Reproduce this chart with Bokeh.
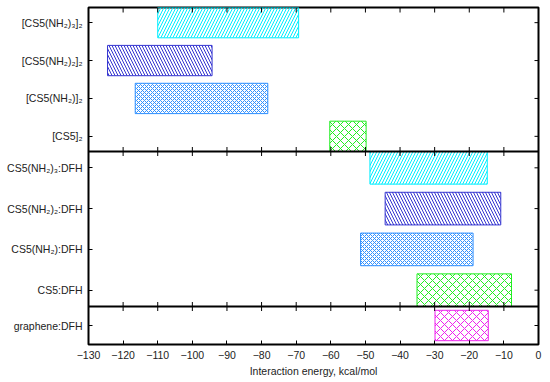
from bokeh.plotting import figure
from bokeh.models import Range1d, FixedTicker, LinearAxis, Span
from bokeh.embed import file_html
from bokeh.resources import INLINE

# ---------------- data (kcal/mol) ----------------
top_labels = ["[CS5(NH₂)₃]₂", "[CS5(NH₂)₂]₂", "[CS5(NH₂)]₂", "[CS5]₂"]
top_low = [-110.0, -124.5, -116.5, -60.3]
top_high = [-69.3, -94.3, -78.2, -49.8]

mid_labels = ["CS5(NH₂)₃:DFH", "CS5(NH₂)₂:DFH", "CS5(NH₂):DFH", "CS5:DFH"]
mid_low = [-48.7, -44.3, -51.4, -35.1]
mid_high = [-14.8, -10.9, -18.9, -7.8]

bot_labels = ["graphene:DFH"]
bot_low = [-29.9]
bot_high = [-14.5]

x_ticks = list(range(-130, 1, 10))
x_label = "Interaction energy, kcal/mol"

# ---------------- styles ----------------
CYAN = dict(color="#00eeff", pattern="/", scale=6)
NAVY = dict(color="#3434d0", pattern="\\", scale=6)
DODGER = dict(color="#3090ff", pattern="x", scale=4)
GREEN = dict(color="#22ee22", pattern="x", scale=8)
MAGENTA = dict(color="#ee22ee", pattern="x", scale=8)
top_styles = [CYAN, NAVY, DODGER, GREEN]
mid_styles = [CYAN, NAVY, DODGER, GREEN]
bot_styles = [MAGENTA]

# layout of the three stacked panels (vertical unit 0..337, top = 0)
TOTAL = 337.0
panels = [
    (0.0, 144.0, 0.4, top_labels, top_low, top_high, top_styles),
    (144.0, 299.0, 0.4, mid_labels, mid_low, mid_high, mid_styles),
    (299.0, 337.0, 0.5, bot_labels, bot_low, bot_high, bot_styles),
]
separators = [144.0, 299.0]

FONT = "Liberation Sans"
FS = "10.5px"
TXT = "#222222"

p = figure(width=548, height=380, output_backend="svg", toolbar_location=None,
           x_range=Range1d(-130, 0), y_range=Range1d(TOTAL, 0),
           min_border_left=88, min_border_right=10, min_border_top=7,
           min_border_bottom=36, x_axis_location=None, y_axis_location=None)
p.grid.visible = False
p.outline_line_color = "black"
p.outline_line_width = 2
p.background_fill_color = "white"
p.border_fill_color = "white"

ytick_pos = []
ytick_lab = {}
for (a, b, pad, labels, lows, highs, styles) in panels:
    n = len(labels)
    unit = (b - a) / (n - 1 + 2 * pad)
    h = 0.8 * unit
    for i, (lab, lo, hi, st) in enumerate(zip(labels, lows, highs, styles)):
        c = a + (pad + i) * unit
        ytick_pos.append(c)
        ytick_lab[c] = lab
        p.quad(left=[lo], right=[hi], top=[c - h / 2], bottom=[c + h / 2],
               fill_color=None, line_color=st["color"], line_width=1,
               hatch_pattern=st["pattern"], hatch_color=st["color"],
               hatch_scale=st["scale"], hatch_weight=1)

inner = [t for t in x_ticks if x_ticks[0] < t < x_ticks[-1]]
# tick marks crossing the panel separators, and inward ticks on the top edge
for s in separators:
    p.add_layout(Span(location=s, dimension="width", line_color="black", line_width=2))
    p.segment(x0=inner, x1=inner, y0=[s - 4.5] * len(inner), y1=[s + 4.5] * len(inner),
              line_color="black", line_width=1)
p.segment(x0=inner, x1=inner, y0=[0.0] * len(inner), y1=[5.0] * len(inner),
          line_color="black", line_width=1)
# inward ticks on the right edge
tick_dx = 4.0 * 130.0 / 450.0
p.segment(x0=[0.0] * len(ytick_pos), x1=[-tick_dx] * len(ytick_pos),
          y0=ytick_pos, y1=ytick_pos, line_color="black", line_width=1)


def style_axis(ax):
    ax.axis_line_color = None
    ax.major_tick_in = 4
    ax.major_tick_out = 0
    ax.minor_tick_line_color = None
    ax.major_tick_line_color = "black"
    ax.major_tick_line_width = 1
    ax.major_label_text_font = FONT
    ax.major_label_text_color = TXT
    ax.major_label_text_font_size = FS


xt = FixedTicker(ticks=x_ticks)
yt = FixedTicker(ticks=ytick_pos)

bottom = LinearAxis(ticker=xt, axis_label=x_label)
style_axis(bottom)
bottom.major_label_standoff = 6
bottom.axis_label_standoff = 3
bottom.axis_label_text_font = FONT
bottom.axis_label_text_font_size = FS
bottom.axis_label_text_font_style = "normal"
bottom.axis_label_text_color = TXT
p.add_layout(bottom, "below")

left = LinearAxis(ticker=yt, major_label_overrides=ytick_lab)
style_axis(left)
left.major_label_standoff = 6
p.add_layout(left, "left")

open("out.html", "w").write(file_html(p, INLINE))
